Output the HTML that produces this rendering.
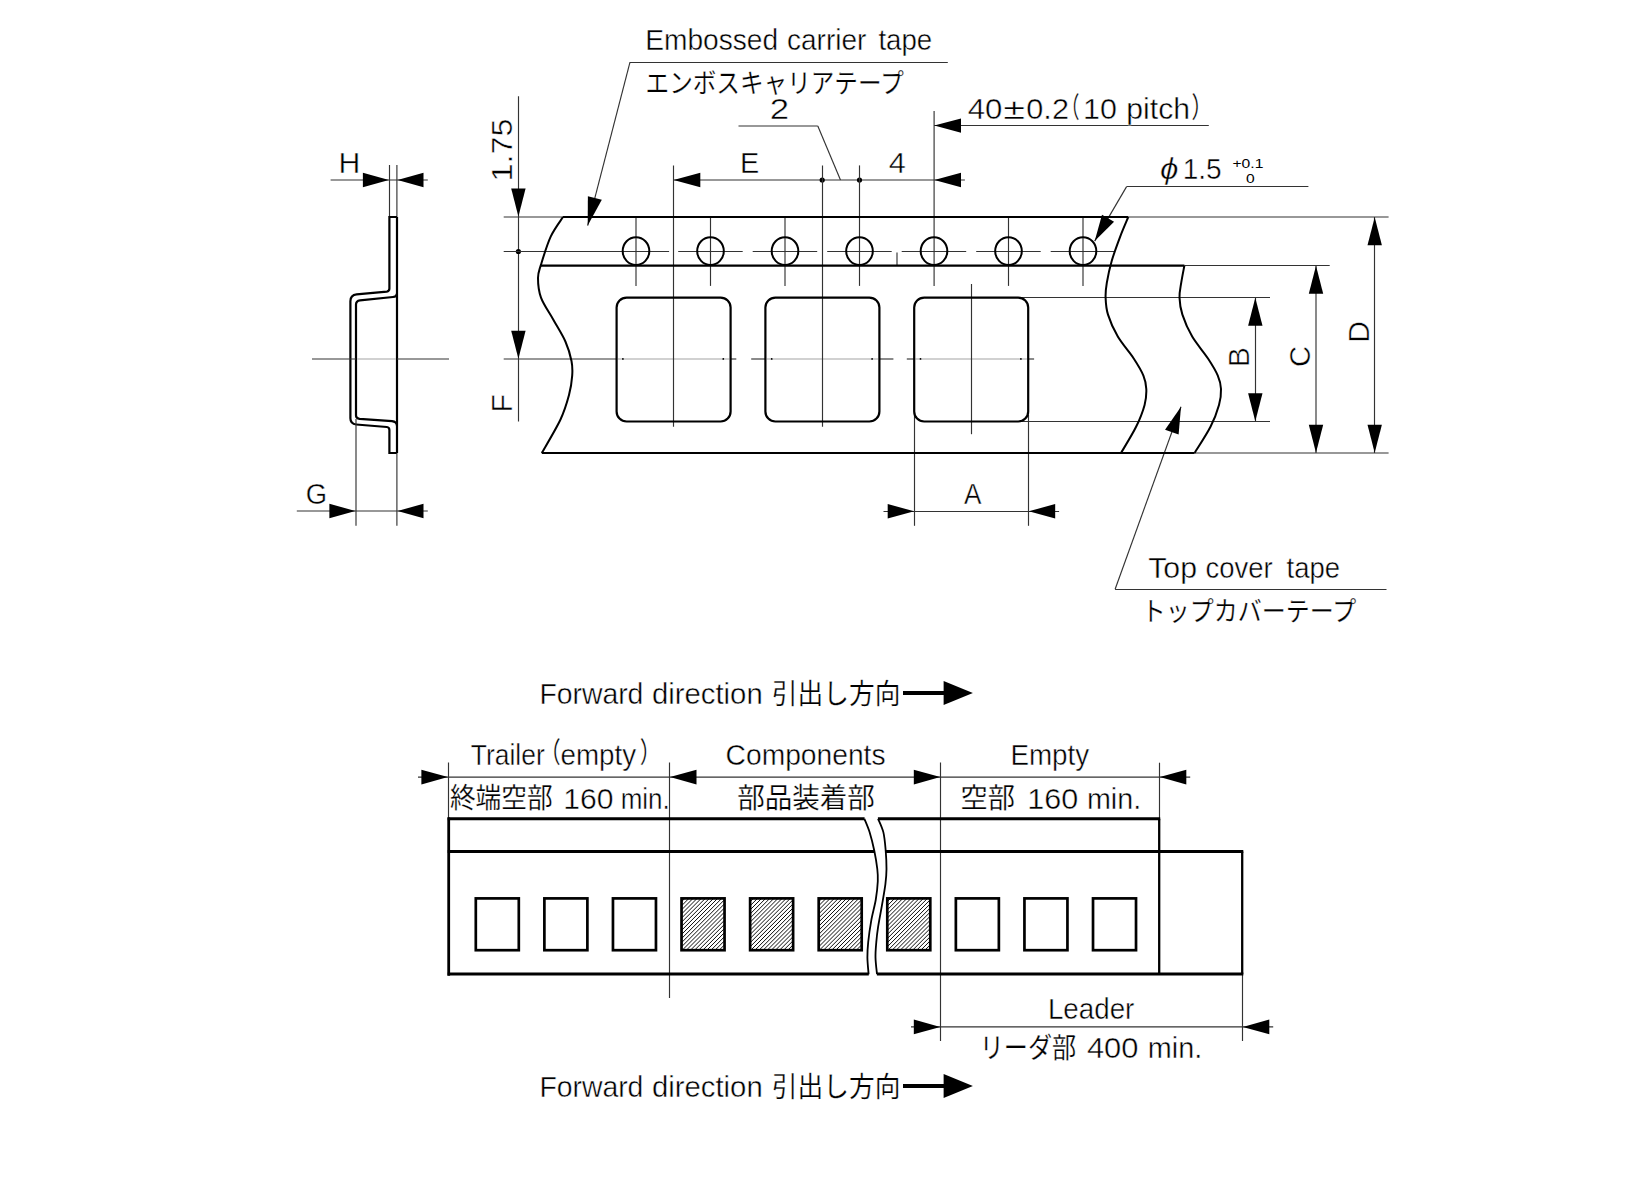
<!DOCTYPE html>
<html lang="ja">
<head>
<meta charset="utf-8">
<title>Embossed carrier tape dimensions</title>
<style>
html,body{margin:0;padding:0;background:#fff;}
body{width:1640px;height:1182px;overflow:hidden;}
svg{display:block;}
text{font-family:"Liberation Sans", "Noto Sans CJK JP", sans-serif;fill:#000;stroke:#fff;stroke-width:.45px;}
.j{stroke-width:.25px;}
.s{stroke:none;}
.t{stroke:#333;stroke-width:1.15;fill:none;}
.tl{stroke:#a4a4a4;stroke-width:1.1;fill:none;}
.k{stroke:#000;stroke-width:2.2;fill:none;stroke-linejoin:miter;}
.k2{stroke:#000;stroke-width:2;fill:none;}
.k3{stroke:#000;stroke-width:1.8;fill:none;}
.kv{stroke:#000;stroke-width:2.3;fill:none;}
.kh{stroke:#000;stroke-width:3;fill:none;}
.kw{stroke:#000;stroke-width:2.8;fill:none;}
.kp{stroke:#000;stroke-width:2.7;fill:none;}
.hl{stroke:#000;stroke-width:0.95;fill:none;}
.a{fill:#000;stroke:none;}
</style>
</head>
<body>
<svg width="1640" height="1182" viewBox="0 0 1640 1182">
<rect width="1640" height="1182" fill="#fff"/>
<line class="t" x1="330.6" y1="180" x2="427.8" y2="180"/>
<line class="t" x1="389.5" y1="165" x2="389.5" y2="217"/>
<line class="t" x1="396.9" y1="165" x2="396.9" y2="217"/>
<polygon class="a" points="388.9,180 362.9,187.2 362.9,172.8"/>
<polygon class="a" points="397.5,180 423.5,172.8 423.5,187.2"/>
<path class="k" d="M397,217V453"/>
<path class="k" d="M397,217H389.4V288.6Q389.4,291.3 386.8,291.6L356.6,294.4Q350.4,295.1 350.4,301.2V418.3Q350.4,424 356.2,424.5L386.8,427Q389.4,427.3 389.4,430V453H397"/>
<path class="k" d="M397,293.6Q396.8,296.6 393,297L360,300.4Q356,300.9 356,304.6V415.4Q356,418.4 359.6,418.8L392,421.2Q396.6,421.8 397,425.6"/>
<line class="t" x1="312" y1="359" x2="356" y2="359"/>
<line class="tl" x1="357.2" y1="359" x2="395.8" y2="359"/>
<line class="t" x1="397" y1="359" x2="449" y2="359"/>
<line class="t" x1="356" y1="419" x2="356" y2="525.7"/>
<line class="t" x1="396.9" y1="453" x2="396.9" y2="525.7"/>
<line class="t" x1="296.8" y1="511" x2="427.8" y2="511"/>
<polygon class="a" points="355.4,511 329.4,518.2 329.4,503.8"/>
<polygon class="a" points="397.5,511 423.5,503.8 423.5,518.2"/>
<line class="t" x1="518.5" y1="96.3" x2="518.5" y2="421.5"/>
<polygon class="a" points="518.4,216.6 511.2,188.6 525.6,188.6"/>
<polygon class="a" points="518.4,358.8 511.2,330.8 525.6,330.8"/>
<circle class="a" cx="518.4" cy="251.5" r="2.6"/>
<line class="t" x1="503.7" y1="217" x2="563" y2="217"/>
<line class="t" x1="503.7" y1="251.5" x2="669.1" y2="251.5"/>
<line class="t" x1="503.7" y1="359" x2="616.6" y2="359"/>
<line class="t" x1="730.7" y1="359" x2="736.3" y2="359"/>
<line class="t" x1="751.2" y1="359" x2="765.4" y2="359"/>
<line class="t" x1="879.4" y1="359" x2="893.4" y2="359"/>
<line class="t" x1="906.8" y1="359" x2="914.6" y2="359"/>
<line class="t" x1="1028.3" y1="359" x2="1034.1" y2="359"/>
<line class="tl" x1="617.8" y1="359" x2="729.4" y2="359"/>
<circle class="a" cx="622.9" cy="358.9" r="0.9"/>
<circle class="a" cx="723.3" cy="358.9" r="0.9"/>
<line class="tl" x1="766.6" y1="359" x2="878.2" y2="359"/>
<circle class="a" cx="771.7" cy="358.9" r="0.9"/>
<circle class="a" cx="872.1" cy="358.9" r="0.9"/>
<line class="tl" x1="915.4" y1="359" x2="1027" y2="359"/>
<circle class="a" cx="920.5" cy="358.9" r="0.9"/>
<circle class="a" cx="1020.9" cy="358.9" r="0.9"/>
<line class="t" x1="678.2" y1="251.5" x2="742.7" y2="251.5"/>
<line class="t" x1="752.7" y1="251.5" x2="817.2" y2="251.5"/>
<line class="t" x1="827.2" y1="251.5" x2="891.7" y2="251.5"/>
<line class="t" x1="901.7" y1="251.5" x2="966.2" y2="251.5"/>
<line class="t" x1="976.2" y1="251.5" x2="1040.7" y2="251.5"/>
<line class="t" x1="1050.7" y1="251.5" x2="1114" y2="251.5"/>
<line class="t" x1="630" y1="62.5" x2="947.8" y2="62.5"/>
<line class="t" x1="630" y1="62.2" x2="587.7" y2="225.6"/>
<polygon class="a" points="587.7,225.6 587.87,196.21 601.81,199.81"/>
<line class="t" x1="738.5" y1="126" x2="817.8" y2="126"/>
<line class="t" x1="817.8" y1="126" x2="840.5" y2="180"/>
<line class="t" x1="673.4" y1="180" x2="964.9" y2="180"/>
<circle class="a" cx="822.2" cy="180" r="2.6"/>
<circle class="a" cx="859.5" cy="180" r="2.6"/>
<polygon class="a" points="673.6,180 700.3,172.8 700.3,187.2"/>
<polygon class="a" points="934.3,180 961,172.8 961,187.2"/>
<line class="t" x1="673.5" y1="165.4" x2="673.5" y2="426.8"/>
<line class="t" x1="822.5" y1="165.4" x2="822.5" y2="426.8"/>
<line class="t" x1="859.5" y1="165.4" x2="859.5" y2="285.9"/>
<line class="t" x1="934.1" y1="111" x2="934.1" y2="285.9"/>
<line class="t" x1="934.1" y1="125.5" x2="1208.8" y2="125.5"/>
<polygon class="a" points="934.3,125.6 961,118.4 961,132.8"/>
<line class="t" x1="636" y1="218" x2="636" y2="285.9"/>
<line class="t" x1="710.5" y1="218" x2="710.5" y2="285.9"/>
<line class="t" x1="785" y1="218" x2="785" y2="285.9"/>
<line class="t" x1="1008.5" y1="218" x2="1008.5" y2="285.9"/>
<line class="t" x1="1083" y1="218" x2="1083" y2="285.9"/>
<line class="t" x1="1126.6" y1="186.5" x2="1308.4" y2="186.5"/>
<line class="t" x1="1126.6" y1="186.6" x2="1094.7" y2="241.1"/>
<polygon class="a" points="1094.7,241.1 1101.99,214.78 1114.08,221.85"/>
<line class="t" x1="1128.3" y1="217" x2="1388.6" y2="217"/>
<line class="t" x1="1184.4" y1="265.5" x2="1329.7" y2="265.5"/>
<line class="t" x1="1020" y1="297.5" x2="1270" y2="297.5"/>
<line class="t" x1="1020" y1="421.5" x2="1270" y2="421.5"/>
<line class="t" x1="1194.6" y1="453" x2="1388.6" y2="453"/>
<line class="t" x1="1255.5" y1="297.6" x2="1255.5" y2="421.5"/>
<polygon class="a" points="1255.3,297.8 1262.5,325.8 1248.1,325.8"/>
<polygon class="a" points="1255.3,421.3 1248.1,393.3 1262.5,393.3"/>
<line class="t" x1="1316" y1="265.5" x2="1316" y2="453"/>
<polygon class="a" points="1316,265.8 1323.2,293.8 1308.8,293.8"/>
<polygon class="a" points="1316,452.7 1308.8,424.7 1323.2,424.7"/>
<line class="t" x1="1374.5" y1="217" x2="1374.5" y2="453"/>
<polygon class="a" points="1374.7,217.3 1381.9,245.3 1367.5,245.3"/>
<polygon class="a" points="1374.7,452.7 1367.5,424.7 1381.9,424.7"/>
<line class="t" x1="914.5" y1="415" x2="914.5" y2="525.8"/>
<line class="t" x1="1028.5" y1="415" x2="1028.5" y2="525.8"/>
<line class="t" x1="883.5" y1="511.5" x2="1059.1" y2="511.5"/>
<polygon class="a" points="914.2,511.3 887.7,518.5 887.7,504.1"/>
<polygon class="a" points="1028.7,511.3 1055.2,504.1 1055.2,518.5"/>
<line class="t" x1="971.5" y1="284" x2="971.5" y2="434.2"/>
<line class="t" x1="897" y1="252.5" x2="897" y2="265"/>
<line class="t" x1="1181" y1="406.7" x2="1115.1" y2="589.3"/>
<line class="t" x1="1115.1" y1="589.5" x2="1386.5" y2="589.5"/>
<polygon class="a" points="1181,406.7 1178.61,434.54 1165.06,429.65"/>
<path class="k" d="M563,217H1128.3"/>
<path class="k" d="M540.5,265.7H1184.4"/>
<path class="k" d="M541.8,453H1194.6"/>
<path class="k2" d="M563,217C560.95,220.27 554.37,228.67 550.7,236.6C547.03,244.53 543.12,257.7 541,264.6C538.88,271.5 538,272.5 538,278C538,283.5 538.47,290.68 541,297.6C543.53,304.52 549.13,312.18 553.2,319.5C557.27,326.82 562.35,334.58 565.4,341.5C568.45,348.42 570.37,355.32 571.5,361C572.63,366.68 572.62,369.92 572.2,375.6C571.78,381.28 570.95,387.78 569,395.1C567.05,402.42 565.03,409.85 560.5,419.5C555.97,429.15 544.92,447.42 541.8,453"/>
<path class="k2" d="M1128.3,217C1126.95,220.27 1122.97,229.27 1120.2,236.6C1117.43,243.93 1113.93,253.28 1111.7,261C1109.47,268.72 1107.82,276.8 1106.8,282.9C1105.78,289 1105.4,292.32 1105.6,297.6C1105.8,302.88 1105.97,308.1 1108,314.6C1110.03,321.1 1113.52,329.28 1117.8,336.6C1122.08,343.92 1129.43,352 1133.7,358.5C1137.97,365 1141.3,370.52 1143.4,375.6C1145.5,380.68 1146.1,384.12 1146.3,389C1146.5,393.88 1146.3,398.6 1144.6,404.9C1142.9,411.2 1140.03,418.78 1136.1,426.8C1132.17,434.82 1123.52,448.63 1121,453"/>
<path class="k2" d="M1184.4,265.5C1183.87,268.4 1182.02,277.55 1181.2,282.9C1180.38,288.25 1179.3,292.32 1179.5,297.6C1179.7,302.88 1180.28,308.1 1182.4,314.6C1184.52,321.1 1187.93,329.28 1192.2,336.6C1196.47,343.92 1203.73,352 1208,358.5C1212.27,365 1215.63,370.52 1217.8,375.6C1219.97,380.68 1220.8,384.12 1221,389C1221.2,393.88 1220.75,398.6 1219,404.9C1217.25,411.2 1214.57,418.78 1210.5,426.8C1206.43,434.82 1197.25,448.63 1194.6,453"/>
<ellipse class="k2" cx="636" cy="251.1" rx="13.3" ry="13.9"/>
<ellipse class="k2" cx="710.5" cy="251.1" rx="13.3" ry="13.9"/>
<ellipse class="k2" cx="785" cy="251.1" rx="13.3" ry="13.9"/>
<ellipse class="k2" cx="859.5" cy="251.1" rx="13.3" ry="13.9"/>
<ellipse class="k2" cx="934" cy="251.1" rx="13.3" ry="13.9"/>
<ellipse class="k2" cx="1008.5" cy="251.1" rx="13.3" ry="13.9"/>
<ellipse class="k2" cx="1083" cy="251.1" rx="13.3" ry="13.9"/>
<rect class="k" x="616.6" y="297.6" width="114" height="123.9" rx="10" ry="10"/>
<rect class="k" x="765.4" y="297.6" width="114" height="123.9" rx="10" ry="10"/>
<rect class="k" x="914.2" y="297.6" width="114" height="123.9" rx="10" ry="10"/>
<line x1="903" y1="693" x2="946" y2="693" stroke="#000" stroke-width="4.1"/>
<polygon class="a" points="972.9,693 943.6,705.1 943.6,680.9"/>
<line x1="903" y1="1086" x2="946" y2="1086" stroke="#000" stroke-width="4.1"/>
<polygon class="a" points="972.9,1086 943.6,1098.1 943.6,1073.9"/>
<line class="t" x1="448.5" y1="762.5" x2="448.5" y2="818.8"/>
<line class="t" x1="669.5" y1="762.5" x2="669.5" y2="998"/>
<line class="t" x1="940.5" y1="762.5" x2="940.5" y2="1041"/>
<line class="t" x1="1159.5" y1="762.7" x2="1159.5" y2="818.8"/>
<line class="t" x1="1242.5" y1="974.2" x2="1242.5" y2="1041"/>
<line class="t" x1="418" y1="777.1" x2="1190.2" y2="777.1"/>
<polygon class="a" points="447.9,777.1 421.4,784.4 421.4,769.8"/>
<polygon class="a" points="670,777.1 696.5,769.8 696.5,784.4"/>
<polygon class="a" points="940.3,777.1 913.8,784.4 913.8,769.8"/>
<polygon class="a" points="1159.8,777.1 1186.3,769.8 1186.3,784.4"/>
<line class="t" x1="911" y1="1026.9" x2="1273.2" y2="1026.9"/>
<polygon class="a" points="940.3,1026.9 913.8,1034.2 913.8,1019.6"/>
<polygon class="a" points="1242.8,1026.9 1269.3,1019.6 1269.3,1034.2"/>
<path class="kw" d="M448.7,975.7V817.4"/>
<path class="kv" d="M1159.2,818.8V974.2"/>
<path class="kv" d="M1242.2,851.5V974.2"/>
<path class="kh" d="M447.7,974.1H868.8M876.9,974.1H1243.3"/>
<path class="kh" d="M447.7,818.8H864.6M877.9,818.8H1160.2"/>
<path class="kh" d="M447.7,851.4H874.2M885.6,851.4H1243.3"/>
<path class="k3" d="M864.4,818.8C865.28,821.07 868.05,827.08 869.7,832.4C871.35,837.72 873.03,844.6 874.3,850.7C875.57,856.8 876.72,863.92 877.3,869C877.88,874.08 878.05,876.12 877.8,881.2C877.55,886.28 876.9,892.9 875.8,899.5C874.7,906.1 872.47,913.7 871.2,920.8C869.93,927.9 868.83,936 868.2,942.1C867.57,948.2 867.33,952.05 867.4,957.4C867.47,962.75 868.4,971.4 868.6,974.2"/>
<path class="k3" d="M878.1,818.8C878.98,821.07 882.13,827.08 883.4,832.4C884.67,837.72 885.18,844.6 885.7,850.7C886.22,856.8 886.55,863.42 886.5,869C886.45,874.58 886.17,878.1 885.4,884.2C884.63,890.3 883.12,898.48 881.9,905.6C880.68,912.72 879.03,920.82 878.1,926.9C877.17,932.98 876.73,937.02 876.3,942.1C875.87,947.18 875.38,952.05 875.5,957.4C875.62,962.75 876.75,971.4 877,974.2"/>
<rect class="kp" x="475.8" y="898.4" width="43.0" height="51.8"/>
<rect class="kp" x="544.38" y="898.4" width="43.0" height="51.8"/>
<rect class="kp" x="612.96" y="898.4" width="43.0" height="51.8"/>
<path class="hl" d="M681.54,901.7L684.84,898.4M681.54,905.8L688.94,898.4M681.54,909.9L693.04,898.4M681.54,914L697.14,898.4M681.54,918.1L701.24,898.4M681.54,922.2L705.34,898.4M681.54,926.3L709.44,898.4M681.54,930.4L713.54,898.4M681.54,934.5L717.64,898.4M681.54,938.6L721.74,898.4M681.54,942.7L724.54,899.7M681.54,946.8L724.54,903.8M682.24,950.2L724.54,907.9M686.34,950.2L724.54,912M690.44,950.2L724.54,916.1M694.54,950.2L724.54,920.2M698.64,950.2L724.54,924.3M702.74,950.2L724.54,928.4M706.84,950.2L724.54,932.5M710.94,950.2L724.54,936.6M715.04,950.2L724.54,940.7M719.14,950.2L724.54,944.8M723.24,950.2L724.54,948.9"/>
<rect class="kp" x="681.54" y="898.4" width="43.0" height="51.8"/>
<path class="hl" d="M750.12,901.7L753.42,898.4M750.12,905.8L757.52,898.4M750.12,909.9L761.62,898.4M750.12,914L765.72,898.4M750.12,918.1L769.82,898.4M750.12,922.2L773.92,898.4M750.12,926.3L778.02,898.4M750.12,930.4L782.12,898.4M750.12,934.5L786.22,898.4M750.12,938.6L790.32,898.4M750.12,942.7L793.12,899.7M750.12,946.8L793.12,903.8M750.82,950.2L793.12,907.9M754.92,950.2L793.12,912M759.02,950.2L793.12,916.1M763.12,950.2L793.12,920.2M767.22,950.2L793.12,924.3M771.32,950.2L793.12,928.4M775.42,950.2L793.12,932.5M779.52,950.2L793.12,936.6M783.62,950.2L793.12,940.7M787.72,950.2L793.12,944.8M791.82,950.2L793.12,948.9"/>
<rect class="kp" x="750.12" y="898.4" width="43.0" height="51.8"/>
<path class="hl" d="M818.7,901.7L822,898.4M818.7,905.8L826.1,898.4M818.7,909.9L830.2,898.4M818.7,914L834.3,898.4M818.7,918.1L838.4,898.4M818.7,922.2L842.5,898.4M818.7,926.3L846.6,898.4M818.7,930.4L850.7,898.4M818.7,934.5L854.8,898.4M818.7,938.6L858.9,898.4M818.7,942.7L861.7,899.7M818.7,946.8L861.7,903.8M819.4,950.2L861.7,907.9M823.5,950.2L861.7,912M827.6,950.2L861.7,916.1M831.7,950.2L861.7,920.2M835.8,950.2L861.7,924.3M839.9,950.2L861.7,928.4M844,950.2L861.7,932.5M848.1,950.2L861.7,936.6M852.2,950.2L861.7,940.7M856.3,950.2L861.7,944.8M860.4,950.2L861.7,948.9"/>
<rect class="kp" x="818.7" y="898.4" width="43.0" height="51.8"/>
<path class="hl" d="M887.28,901.7L890.58,898.4M887.28,905.8L894.68,898.4M887.28,909.9L898.78,898.4M887.28,914L902.88,898.4M887.28,918.1L906.98,898.4M887.28,922.2L911.08,898.4M887.28,926.3L915.18,898.4M887.28,930.4L919.28,898.4M887.28,934.5L923.38,898.4M887.28,938.6L927.48,898.4M887.28,942.7L930.28,899.7M887.28,946.8L930.28,903.8M887.98,950.2L930.28,907.9M892.08,950.2L930.28,912M896.18,950.2L930.28,916.1M900.28,950.2L930.28,920.2M904.38,950.2L930.28,924.3M908.48,950.2L930.28,928.4M912.58,950.2L930.28,932.5M916.68,950.2L930.28,936.6M920.78,950.2L930.28,940.7M924.88,950.2L930.28,944.8M928.98,950.2L930.28,948.9"/>
<rect class="kp" x="887.28" y="898.4" width="43.0" height="51.8"/>
<rect class="kp" x="955.86" y="898.4" width="43.0" height="51.8"/>
<rect class="kp" x="1024.44" y="898.4" width="43.0" height="51.8"/>
<rect class="kp" x="1093.02" y="898.4" width="43.0" height="51.8"/>
<text y="173.3"><tspan x="338.64" textLength="21.83" lengthAdjust="spacingAndGlyphs" font-size="30">H</tspan></text>
<text y="503.6"><tspan x="305.71" textLength="21.33" lengthAdjust="spacingAndGlyphs" font-size="30">G</tspan></text>
<text y="50.2"><tspan x="645.2" textLength="132.98" lengthAdjust="spacingAndGlyphs" font-size="30">Embossed</tspan> <tspan x="787.02" textLength="79.41" lengthAdjust="spacingAndGlyphs" font-size="30">carrier</tspan> <tspan x="878.4" textLength="53.82" lengthAdjust="spacingAndGlyphs" font-size="30">tape</tspan></text>
<text y="92.7"><tspan x="645.57" textLength="258.2" lengthAdjust="spacingAndGlyphs" font-size="27" class="j">エンボスキャリアテープ</tspan></text>
<text y="118.8"><tspan x="769.87" textLength="19.34" lengthAdjust="spacingAndGlyphs" font-size="30">2</tspan></text>
<text y="118.9"><tspan x="967.71" textLength="34.66" lengthAdjust="spacingAndGlyphs" font-size="30">40</tspan> <tspan x="1003.26" textLength="21.84" lengthAdjust="spacingAndGlyphs" font-size="30">±</tspan> <tspan x="1026.34" textLength="42.6" lengthAdjust="spacingAndGlyphs" font-size="30">0.2</tspan><tspan x="1061.09" textLength="18.49" lengthAdjust="spacingAndGlyphs" font-size="28.5" dy="-1.2" class="j">（</tspan><tspan x="1083" textLength="33.86" lengthAdjust="spacingAndGlyphs" font-size="30" dy="1.2">10</tspan> <tspan x="1126.32" textLength="63.68" lengthAdjust="spacingAndGlyphs" font-size="30">pitch</tspan><tspan x="1191.56" textLength="20.62" lengthAdjust="spacingAndGlyphs" font-size="28.5" dy="-1.2" class="j">）</tspan></text>
<text y="173.2"><tspan x="739.94" textLength="19.27" lengthAdjust="spacingAndGlyphs" font-size="30">E</tspan></text>
<text y="173.2"><tspan x="888.82" textLength="17.04" lengthAdjust="spacingAndGlyphs" font-size="30">4</tspan></text>
<text y="178.9"><tspan x="1159.96" textLength="18.46" lengthAdjust="spacingAndGlyphs" font-size="30" font-style="italic">ϕ</tspan><tspan x="1182.65" textLength="38.99" lengthAdjust="spacingAndGlyphs" font-size="30">1.5</tspan></text>
<text y="167.7"><tspan x="1232.46" textLength="30.97" lengthAdjust="spacingAndGlyphs" font-size="13.6" class="s">+0.1</tspan></text>
<text y="182.7"><tspan x="1245.91" textLength="8.68" lengthAdjust="spacingAndGlyphs" font-size="13.6" class="s">0</tspan></text>
<text y="503.7"><tspan x="964" textLength="17.47" lengthAdjust="spacingAndGlyphs" font-size="30">A</tspan></text>
<text transform="translate(512,181.42) rotate(-90) scale(1.0760,1)" font-size="30">1.75</text>
<text transform="translate(511.7,412.57) rotate(-90) scale(1.0133,1)" font-size="30">F</text>
<text transform="translate(1248.5,367.36) rotate(-90) scale(1.0057,1)" font-size="30">B</text>
<text transform="translate(1309.8,366.97) rotate(-90) scale(0.9730,1)" font-size="30">C</text>
<text transform="translate(1368.5,342.65) rotate(-90) scale(1.0010,1)" font-size="30">D</text>
<text y="577.5"><tspan x="1148.23" textLength="48.8" lengthAdjust="spacingAndGlyphs" font-size="30">Top</tspan> <tspan x="1205.44" textLength="67.09" lengthAdjust="spacingAndGlyphs" font-size="30">cover</tspan> <tspan x="1286.6" textLength="53.51" lengthAdjust="spacingAndGlyphs" font-size="30">tape</tspan></text>
<text y="620.7"><tspan x="1141.68" textLength="214.6" lengthAdjust="spacingAndGlyphs" font-size="27" class="j">トップカバーテープ</tspan></text>
<text y="704"><tspan x="539.38" textLength="104.01" lengthAdjust="spacingAndGlyphs" font-size="30">Forward</tspan> <tspan x="651.88" textLength="110.86" lengthAdjust="spacingAndGlyphs" font-size="30">direction</tspan> <tspan x="771.69" textLength="128.72" lengthAdjust="spacingAndGlyphs" font-size="28" dy="-0.3" class="j">引出し方向</tspan></text>
<text y="1097"><tspan x="539.38" textLength="104.01" lengthAdjust="spacingAndGlyphs" font-size="30">Forward</tspan> <tspan x="651.88" textLength="110.86" lengthAdjust="spacingAndGlyphs" font-size="30">direction</tspan> <tspan x="771.69" textLength="128.72" lengthAdjust="spacingAndGlyphs" font-size="28" dy="-0.3" class="j">引出し方向</tspan></text>
<text y="764.8"><tspan x="470.79" textLength="73.94" lengthAdjust="spacingAndGlyphs" font-size="30">Trailer</tspan><tspan x="539.68" textLength="20.98" lengthAdjust="spacingAndGlyphs" font-size="28.6" dy="-1.5" class="j">（</tspan><tspan x="560.43" textLength="75.67" lengthAdjust="spacingAndGlyphs" font-size="30" dy="1.5">empty</tspan><tspan x="639.84" textLength="20.98" lengthAdjust="spacingAndGlyphs" font-size="28.6" dy="-1.5" class="j">）</tspan></text>
<text y="808.7"><tspan x="449.9" textLength="102.7" lengthAdjust="spacingAndGlyphs" font-size="28" dy="-1" class="j">終端空部</tspan> <tspan x="563.32" textLength="50.23" lengthAdjust="spacingAndGlyphs" font-size="30" dy="1">160</tspan> <tspan x="620.67" textLength="49.18" lengthAdjust="spacingAndGlyphs" font-size="30">min.</tspan></text>
<text y="764.8"><tspan x="725.58" textLength="160" lengthAdjust="spacingAndGlyphs" font-size="30">Components</tspan></text>
<text y="807.7"><tspan x="737.14" textLength="137.82" lengthAdjust="spacingAndGlyphs" font-size="28" class="j">部品装着部</tspan></text>
<text y="764.8"><tspan x="1010.43" textLength="78.77" lengthAdjust="spacingAndGlyphs" font-size="30">Empty</tspan></text>
<text y="808.7"><tspan x="960.62" textLength="54.43" lengthAdjust="spacingAndGlyphs" font-size="28" dy="-1" class="j">空部</tspan> <tspan x="1027.39" textLength="50.97" lengthAdjust="spacingAndGlyphs" font-size="30" dy="1">160</tspan> <tspan x="1086.9" textLength="54.29" lengthAdjust="spacingAndGlyphs" font-size="30">min.</tspan></text>
<text y="1019.2"><tspan x="1047.93" textLength="86.4" lengthAdjust="spacingAndGlyphs" font-size="30">Leader</tspan></text>
<text y="1058"><tspan x="979.72" textLength="96.53" lengthAdjust="spacingAndGlyphs" font-size="28" dy="-0.5" class="j">リーダ部</tspan> <tspan x="1086.92" textLength="51.55" lengthAdjust="spacingAndGlyphs" font-size="30" dy="0.5">400</tspan> <tspan x="1147.8" textLength="54.4" lengthAdjust="spacingAndGlyphs" font-size="30">min.</tspan></text>
</svg>
</body>
</html>
